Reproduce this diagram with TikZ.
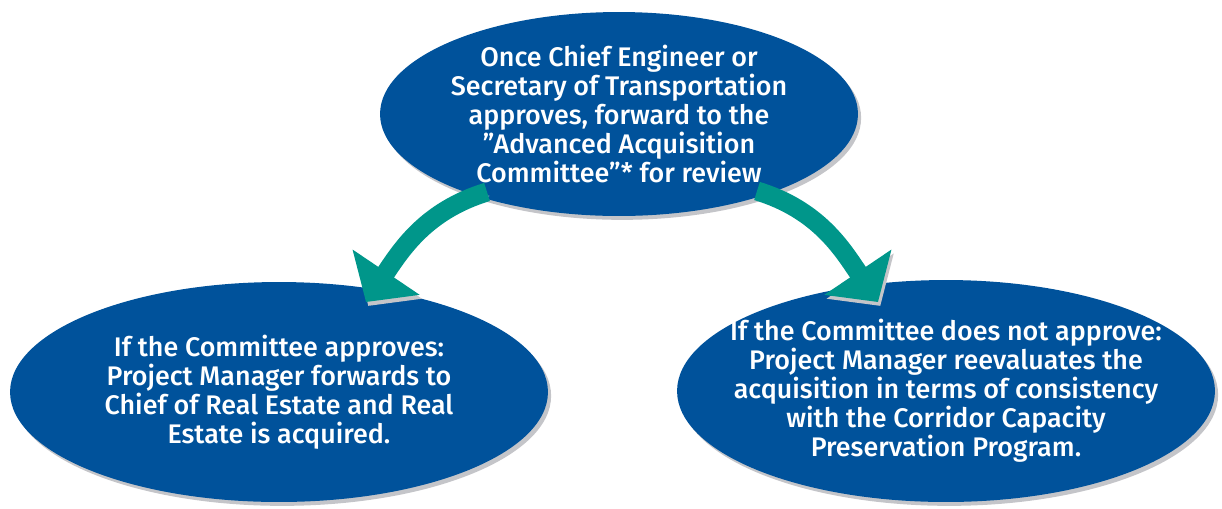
\documentclass[tikz,border=0pt]{standalone}
\usepackage{fontspec}
\setmainfont{Fira Sans}[UprightFont={* Medium}]
\usetikzlibrary{arrows.meta,shapes.geometric,shadows,calc}

\definecolor{ovalblue}{RGB}{0,82,155}
\definecolor{arrowteal}{RGB}{0,150,138}
\definecolor{shadowgray}{RGB}{196,197,201}

\tikzset{
	oval/.style={ellipse, fill=ovalblue, text=white, align=center, inner sep=-1cm, outer sep=0pt,
		font=\fontsize{15.3}{16.5}\selectfont,
		general shadow={shadow xshift=1.8pt, shadow yshift=-2.2pt, fill=shadowgray}},
	bigarrow/.style={line width=0.38cm, draw=arrowteal, -{Triangle[width=1.58cm,length=0.72cm]},
		preaction={draw=shadowgray, transform canvas={xshift=1.3pt,yshift=-2.2pt}}}
}

\begin{document}
\begin{tikzpicture}[x=0.02cm,y=-0.02cm]
		\useasboundingbox (0,0) rectangle (1222,508);

		\draw (619,114) node [oval, minimum width=9.56cm, minimum height=4.08cm] (top)
			{Once Chief Engineer or\\Secretary of Transportation\\approves, forward to the\\”Advanced Acquisition\\Committee”* for review};
		\draw (279,392) node [oval, minimum width=10.76cm, minimum height=4.4cm] (yes)
			{If the Committee approves:\\Project Manager forwards to\\Chief of Real Estate and Real\\Estate is acquired.};
		\draw (946,391) node [oval, minimum width=10.76cm, minimum height=4.44cm] (no)
			{If the Committee does not approve:\\Project Manager reevaluates the\\acquisition in terms of consistency\\with the Corridor Capacity\\Preservation Program.};

		\draw [bigarrow] ($(top.south)+(-132,-24)$) to [out=197, in=56] ($(yes.north)+(87,20)$);
		\draw [bigarrow] ($(top.south)+(138,-25)$) to [out=-17, in=124] ($(no.north)+(-68,22)$);
	\end{tikzpicture}
\end{document}
